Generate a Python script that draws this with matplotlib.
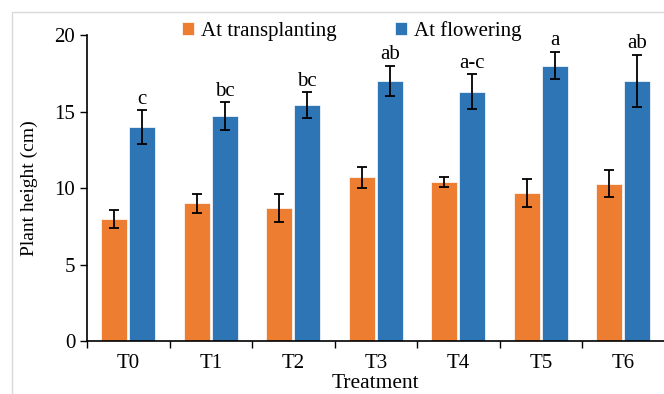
# Plant height bar chart: transplanting vs flowering, with error bars and letters.

import numpy as np
import matplotlib.pyplot as plt
from matplotlib.patches import Rectangle

treatments = ["T0", "T1", "T2", "T3", "T4", "T5", "T6"]
transplanting = [8.0, 9.0, 8.7, 10.7, 10.4, 9.7, 10.3]
transplanting_err = [0.6, 0.6, 0.9, 0.7, 0.3, 0.9, 0.9]
flowering = [14.0, 14.7, 15.4, 17.0, 16.3, 18.0, 17.0]
flowering_err = [1.1, 0.9, 0.85, 1.0, 1.15, 0.9, 1.7]
letters = ["c", "bc", "bc", "ab", "a-c", "a", "ab"]

plt.rcParams['font.family'] = ['Liberation Serif', 'DejaVu Serif']

fig = plt.figure(figsize=(6.64, 3.94), dpi=100)
ax = fig.add_axes([0.131, 0.134, 0.87, 0.777])

# light frame around the chart
fig.patches.append(Rectangle((12/664, -0.1), 1.1, 1 - 12/394 + 0.1, transform=fig.transFigure,
                             fill=False, edgecolor="#d9d9d9", linewidth=1))

x = np.arange(len(treatments))
w = 0.315
off = 0.17
ekw = dict(ecolor="black", elinewidth=1.3, capsize=3.5, capthick=1.3)

ax.bar(x - off, transplanting, w, yerr=transplanting_err, color="#ED7D31",
       edgecolor="white", linewidth=0.5, error_kw=ekw, label="At transplanting")
ax.bar(x + off, flowering, w, yerr=flowering_err, color="#2E75B6",
       edgecolor="white", linewidth=0.5, error_kw=ekw, label="At flowering")

for i in range(len(treatments)):
    ax.text(x[i] + off, flowering[i] + flowering_err[i] + 0.1, letters[i],
            ha="center", va="bottom", fontsize=15)

ax.set_xlim(-0.5, 6.5)
ax.set_ylim(0, 20)
ax.set_yticks([0, 5, 10, 15, 20])
ax.set_xticks(x)
ax.set_xticklabels(treatments)
ax.set_xticks(np.arange(-0.5, 7.0, 1.0), minor=True)
ax.tick_params(axis="x", which="major", length=0, labelsize=15, pad=9)
ax.tick_params(axis="x", which="minor", length=5, width=1, direction="out")
ax.tick_params(axis="y", labelsize=15, length=5, width=1, direction="out")

ax.spines["top"].set_visible(False)
ax.spines["right"].set_visible(False)
ax.spines["left"].set_linewidth(1.2)
ax.spines["bottom"].set_linewidth(1.2)

ax.set_ylabel("Plant height (cm)", fontsize=14, va="center")
ax.yaxis.set_label_coords(-0.1, 0.5)
ax.set_xlabel("Treatment", fontsize=15.5, va="center")
ax.xaxis.set_label_coords(0.5, -0.137)

fig.legend(loc="center", bbox_to_anchor=(0.53, 0.922), ncol=2, frameon=False,
           fontsize=15, handlelength=0.55, handleheight=0.55, handletextpad=0.35,
           columnspacing=2.8)

plt.savefig("out.png", dpi=100)
